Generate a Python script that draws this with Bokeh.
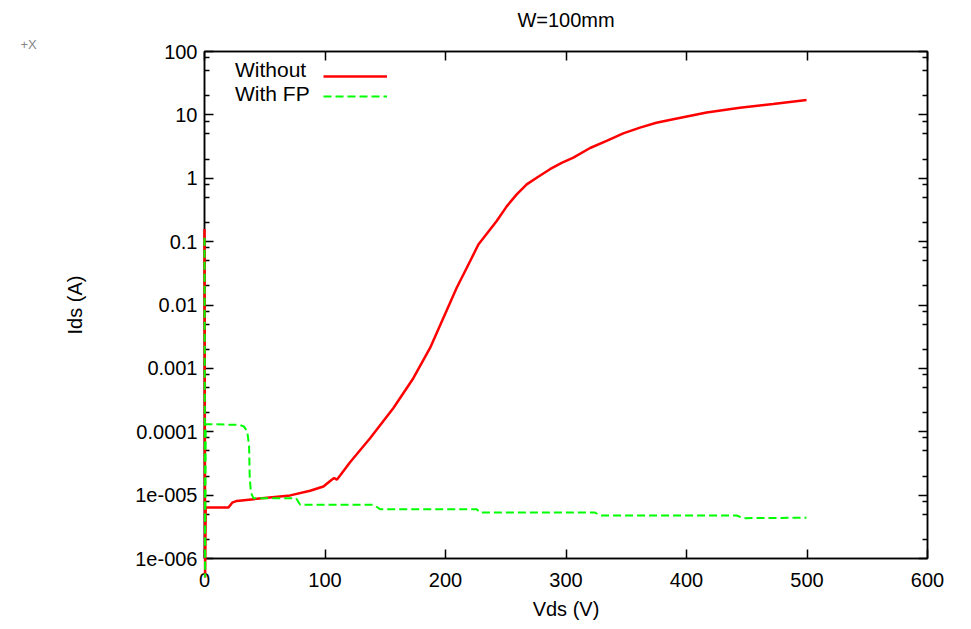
from bokeh.plotting import figure
from bokeh.models import (FixedTicker, CustomJSTickFormatter, LinearAxis, LogAxis,
                          Legend, LegendItem, Title)
from bokeh.embed import file_html
from bokeh.resources import INLINE

# ---- data ----
without_v = [0, 0.5, 1, 19.9, 23, 26.8, 43.4, 71.1, 87.7, 98.7, 105.6, 107.6, 109.8,
             113, 120.8, 137.4, 156.8, 173.3, 187.2, 198.2, 209.3, 220.4, 227.3,
             242.5, 250.8, 259.1, 267.4, 275.7, 286.7, 296.4, 306.1, 320, 333.7,
             347.5, 361.4, 375, 389, 416.7, 444.3, 471.9, 499.6]
without_i = [0.158, 5e-7, 6.4e-6, 6.4e-6, 7.6e-6, 8.1e-6, 8.75e-6, 9.9e-6, 1.17e-5,
             1.37e-5, 1.75e-5, 1.86e-5, 1.75e-5, 2.1e-5, 3.3e-5, 7.9e-5, 2.37e-4,
             7.0e-4, 2.1e-3, 6.25e-3, 0.0187, 0.049, 0.090, 0.211, 0.36, 0.557, 0.8,
             1.02, 1.39, 1.75, 2.11, 3.0, 3.88, 5.1, 6.3, 7.5, 8.55, 10.9, 13.0,
             14.8, 17.1]

with_fp_v = [0, 0.5, 1, 29.6, 33, 35.5, 37.0, 37.5, 38.5, 40.6, 76, 79.4, 140.2,
             145.7, 225.9, 228.7, 324, 328.2, 441.6, 447, 499.6]
with_fp_i = [0.115, 5e-7, 1.32e-4, 1.28e-4, 1.2e-4, 1.0e-4, 6e-5, 2e-5, 1.1e-5,
             8.95e-6, 8.95e-6, 7.05e-6, 7.05e-6, 6.0e-6, 6.0e-6, 5.32e-6, 5.32e-6,
             4.77e-6, 4.77e-6, 4.33e-6, 4.4e-6]

series_names = ["Without", "With FP"]

x_ticks = [0, 100, 200, 300, 400, 500, 600]
y_ticks = [1e-6, 1e-5, 1e-4, 1e-3, 1e-2, 1e-1, 1, 10, 100]
y_tick_labels = ["1e-006", "1e-005", "0.0001", "0.001", "0.01", "0.1", "1", "10", "100"]
y_minor_mult = [2, 5, 8]

FONT = "Liberation Sans"
FS = "20px"

y_minor = [m * d for d in y_ticks[:-1] for m in y_minor_mult]

p = figure(frame_width=723, frame_height=507, x_range=(0, 600), y_range=(1e-6, 100),
           y_axis_type="log", output_backend="svg", toolbar_location=None,
           min_border_left=204, min_border_right=36, min_border_top=51,
           min_border_bottom=63, title="W=100mm")
p.xgrid.visible = False
p.ygrid.visible = False
p.outline_line_color = "black"
p.outline_line_width = 1.5
p.background_fill_color = "white"
p.border_fill_color = "white"

p.title.text_font = FONT
p.title.text_font_size = FS
p.title.text_font_style = "normal"
p.title.text_color = "black"
p.title.align = "center"
p.title.offset = 0
p.title.standoff = 8

yformat = CustomJSTickFormatter(args=dict(vals=y_ticks, labels=y_tick_labels), code="""
for (let i = 0; i < vals.length; i++) {
  if (Math.abs(Math.log10(tick) - Math.log10(vals[i])) < 1e-6) return labels[i];
}
return "";
""")
blank = CustomJSTickFormatter(code="return '';")

def style(ax, labels=True):
    ax.axis_line_color = "black"
    ax.axis_line_width = 1.5
    ax.major_tick_in = 9
    ax.major_tick_out = 0
    ax.minor_tick_in = 5
    ax.minor_tick_out = 0
    ax.major_tick_line_width = 1.5
    ax.minor_tick_line_width = 1.5
    ax.major_label_text_font = FONT
    ax.major_label_text_font_size = FS if labels else "0px"
    ax.major_label_text_color = "black"
    ax.axis_label_text_font = FONT
    ax.axis_label_text_font_size = FS
    ax.axis_label_text_font_style = "normal"
    ax.axis_label_text_color = "black"

xa = p.xaxis[0]
xa.ticker = FixedTicker(ticks=x_ticks)
xa.axis_label = "Vds (V)"
style(xa)
xa.major_label_standoff = 14
xa.axis_label_standoff = 8

ya = p.yaxis[0]
ya.ticker = FixedTicker(ticks=y_ticks, minor_ticks=y_minor)
ya.formatter = yformat
ya.axis_label = "Ids (A)"
style(ya)
ya.major_label_standoff = 7
ya.axis_label_standoff = 46

top = LinearAxis(ticker=FixedTicker(ticks=x_ticks), formatter=blank)
style(top, labels=False)
top.major_label_standoff = 0
p.add_layout(top, "above")

mark = Title(text="+X", align="left", offset=-184, standoff=0,
             text_font=FONT, text_font_size="13px", text_color="#888888",
             text_font_style="normal")
p.add_layout(mark, "above")

right = LogAxis(ticker=FixedTicker(ticks=y_ticks, minor_ticks=y_minor), formatter=blank)
style(right, labels=False)
right.major_label_standoff = 0
p.add_layout(right, "right")

r1 = p.line(without_v, without_i, line_color="#ff0000", line_width=2.5)
r2 = p.line(with_fp_v, with_fp_i, line_color="#00ff00", line_width=2, line_dash="8 4")
r1.level = "overlay"
r2.level = "overlay"


def make_legend(labels, x, glyph_w, standoff, font_size=FS):
    lg = Legend(items=[LegendItem(label=labels[0], renderers=[r1]),
                       LegendItem(label=labels[1], renderers=[r2])],
                location=(x, 452), orientation="vertical")
    lg.border_line_color = None
    lg.background_fill_alpha = 0
    lg.label_text_font = FONT
    lg.label_text_font_size = font_size
    lg.label_text_color = "black"
    lg.label_height = 20
    lg.glyph_height = 20
    lg.glyph_width = glyph_w
    lg.spacing = 0
    lg.padding = 0
    lg.margin = 0
    lg.label_standoff = standoff
    return lg

# gnuplot-style key: the text first, the sample line to its right
p.add_layout(make_legend(series_names, 31, 0, 0, "21px"), "center")
p.add_layout(make_legend([" ", " "], 119, 64, 0), "center")

open("out.html", "w").write(file_html(p, INLINE))
